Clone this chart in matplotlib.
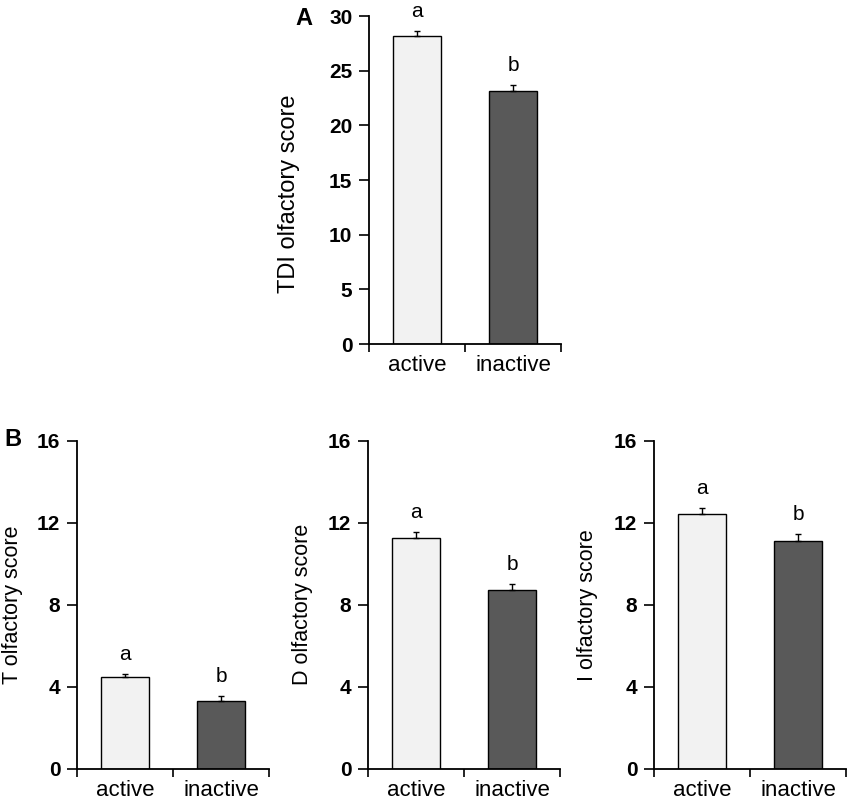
import matplotlib
matplotlib.use("Agg")
import matplotlib.pyplot as plt

plt.rcParams['font.family'] = ['Liberation Sans', 'DejaVu Sans']

categories = ["active", "inactive"]
colors = ["#f2f2f2", "#595959"]

tdi_means = [28.15, 23.15]
tdi_errs = [0.45, 0.55]
tdi_letters = ["a", "b"]

t_means = [4.48, 3.33]
t_errs = [0.15, 0.23]
t_letters = ["a", "b"]

d_means = [11.27, 8.71]
d_errs = [0.27, 0.31]
d_letters = ["a", "b"]

i_means = [12.41, 11.10]
i_errs = [0.30, 0.34]
i_letters = ["a", "b"]

W, H = 850, 806
fig = plt.figure(figsize=(W / 100, H / 100), dpi=100)


def px_axes(left, right, top, bottom):
    return fig.add_axes([left / W, 1 - bottom / H, (right - left) / W, (bottom - top) / H])


def panel(ax, means, errs, letters, ymax, yticks, ylabel, label_x, label_y, tick_fs, lab_fs, cat_fs):
    x = list(range(len(categories)))
    ax.bar(x, means, width=0.5, color=colors, edgecolor="black", linewidth=1.0, zorder=2)
    ax.errorbar(x, means, yerr=[[0] * len(errs), errs], fmt="none", ecolor="black",
                elinewidth=1.0, capsize=2.5, capthick=1.0, zorder=3)
    for xi, m, e, l in zip(x, means, errs, letters):
        ax.annotate(l, (xi, m + e), xytext=(0, 10), textcoords="offset points",
                    ha="center", va="baseline", fontsize=15)
    ax.set_xlim(-0.5, 1.5)
    ax.set_ylim(0, ymax)
    ax.set_yticks(yticks)
    ax.set_yticklabels([str(v) for v in yticks], fontsize=tick_fs, fontweight="bold")
    ax.set_xticks(x)
    ax.set_xticklabels(categories, fontsize=cat_fs)
    ax.tick_params(axis="x", which="major", length=0, pad=8)
    ax.set_xticks([-0.5, 0.5, 1.5], minor=True)
    ax.tick_params(axis="x", which="minor", length=6, width=1.2, direction="out")
    ax.tick_params(axis="y", length=7, width=1.2, direction="out", pad=5)
    for s in ["top", "right"]:
        ax.spines[s].set_visible(False)
    for s in ["left", "bottom"]:
        ax.spines[s].set_linewidth(1.3)
    ax.set_ylabel(ylabel, fontsize=lab_fs)
    ax.yaxis.set_label_coords(label_x, label_y)
    ax.set_facecolor("none")


axA = px_axes(369, 561, 16, 344)
panel(axA, tdi_means, tdi_errs, tdi_letters, 30, [0, 5, 10, 15, 20, 25, 30],
      "TDI olfactory score", -0.358, 0.457, 15, 17, 16)
fig.text(295 / W, 1 - 25 / H, "A", fontsize=17, fontweight="bold", ha="left", va="baseline")

axT = px_axes(77, 269, 440.5, 769)
panel(axT, t_means, t_errs, t_letters, 16, [0, 4, 8, 12, 16],
      "T olfactory score", -0.281, 0.5, 15, 15.5, 16)

axD = px_axes(368, 560, 440.5, 769)
panel(axD, d_means, d_errs, d_letters, 16, [0, 4, 8, 12, 16],
      "D olfactory score", -0.286, 0.5, 15, 15.5, 16)

axI = px_axes(654, 846, 440.5, 769)
panel(axI, i_means, i_errs, i_letters, 16, [0, 4, 8, 12, 16],
      "I olfactory score", -0.29, 0.5, 15, 15.5, 16)

fig.text(4 / W, 1 - 446 / H, "B", fontsize=17, fontweight="bold", ha="left", va="baseline")

fig.savefig("out.png", dpi=100, facecolor="white")
